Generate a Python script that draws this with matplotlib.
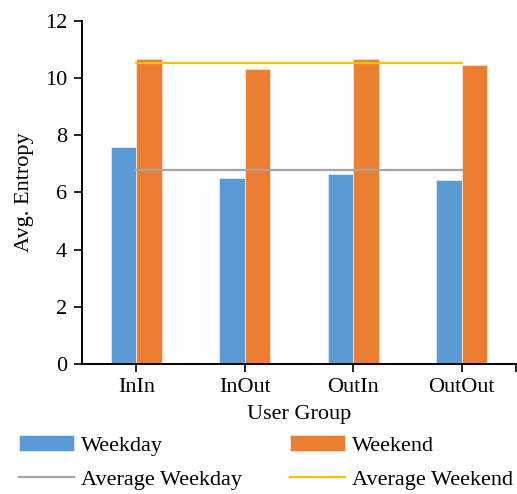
import numpy as np
import matplotlib.pyplot as plt

plt.rcParams['font.family'] = ['Liberation Serif', 'DejaVu Serif']

groups = ['InIn', 'InOut', 'OutIn', 'OutOut']
weekday = [7.57, 6.52, 6.66, 6.45]
weekend = [10.67, 10.31, 10.66, 10.46]
avg_weekday = [6.80, 6.80, 6.80, 6.80]
avg_weekend = [10.53, 10.53, 10.53, 10.53]

blue = '#5B9BD5'
orange = '#ED7D31'
gray = '#A5A5A5'
gold = '#FFC000'

fig = plt.figure(figsize=(5.17, 4.94), dpi=100)
ax = fig.add_axes([0.159, 0.263, 0.839, 0.695])

x = np.arange(len(groups))
w = 0.235
b1 = ax.bar(x - w / 2, weekday, w, color=blue, edgecolor='#DDEBF7', linewidth=0.6, label='Weekday')
b2 = ax.bar(x + w / 2, weekend, w, color=orange, edgecolor='#FBE5D6', linewidth=0.6, label='Weekend')
l1, = ax.plot(x, avg_weekday, color=gray, lw=1.6, label='Average Weekday')
l2, = ax.plot(x, avg_weekend, color=gold, lw=1.6, label='Average Weekend')

ax.set_xlim(-0.5, 3.5)
ax.set_ylim(0, 12)
ax.set_yticks(range(0, 13, 2))
ax.set_xticks(list(x) + [3.5])
ax.set_xticklabels(groups + [''])
ax.tick_params(axis='both', direction='out', length=6, width=1.2, labelsize=16, colors='black')
ax.tick_params(axis='x', pad=4)
ax.tick_params(axis='y', pad=5)
for s in ['top', 'right']:
    ax.spines[s].set_visible(False)
for s in ['left', 'bottom']:
    ax.spines[s].set_linewidth(1.4)

ax.set_ylabel('Avg. Entropy', fontsize=16, labelpad=8)
ax.set_xlabel('User Group', fontsize=16, labelpad=6)

fig.legend([b1, l1, b2, l2], ['Weekday', 'Average Weekday', 'Weekend', 'Average Weekend'],
           ncol=2, loc='lower left', bbox_to_anchor=(0.01, -0.018), frameon=False,
           fontsize=16, handlelength=2.5, handletextpad=0.3, columnspacing=2.15,
           labelspacing=0.6, borderaxespad=0.2)

fig.savefig('out.png', dpi=100)
